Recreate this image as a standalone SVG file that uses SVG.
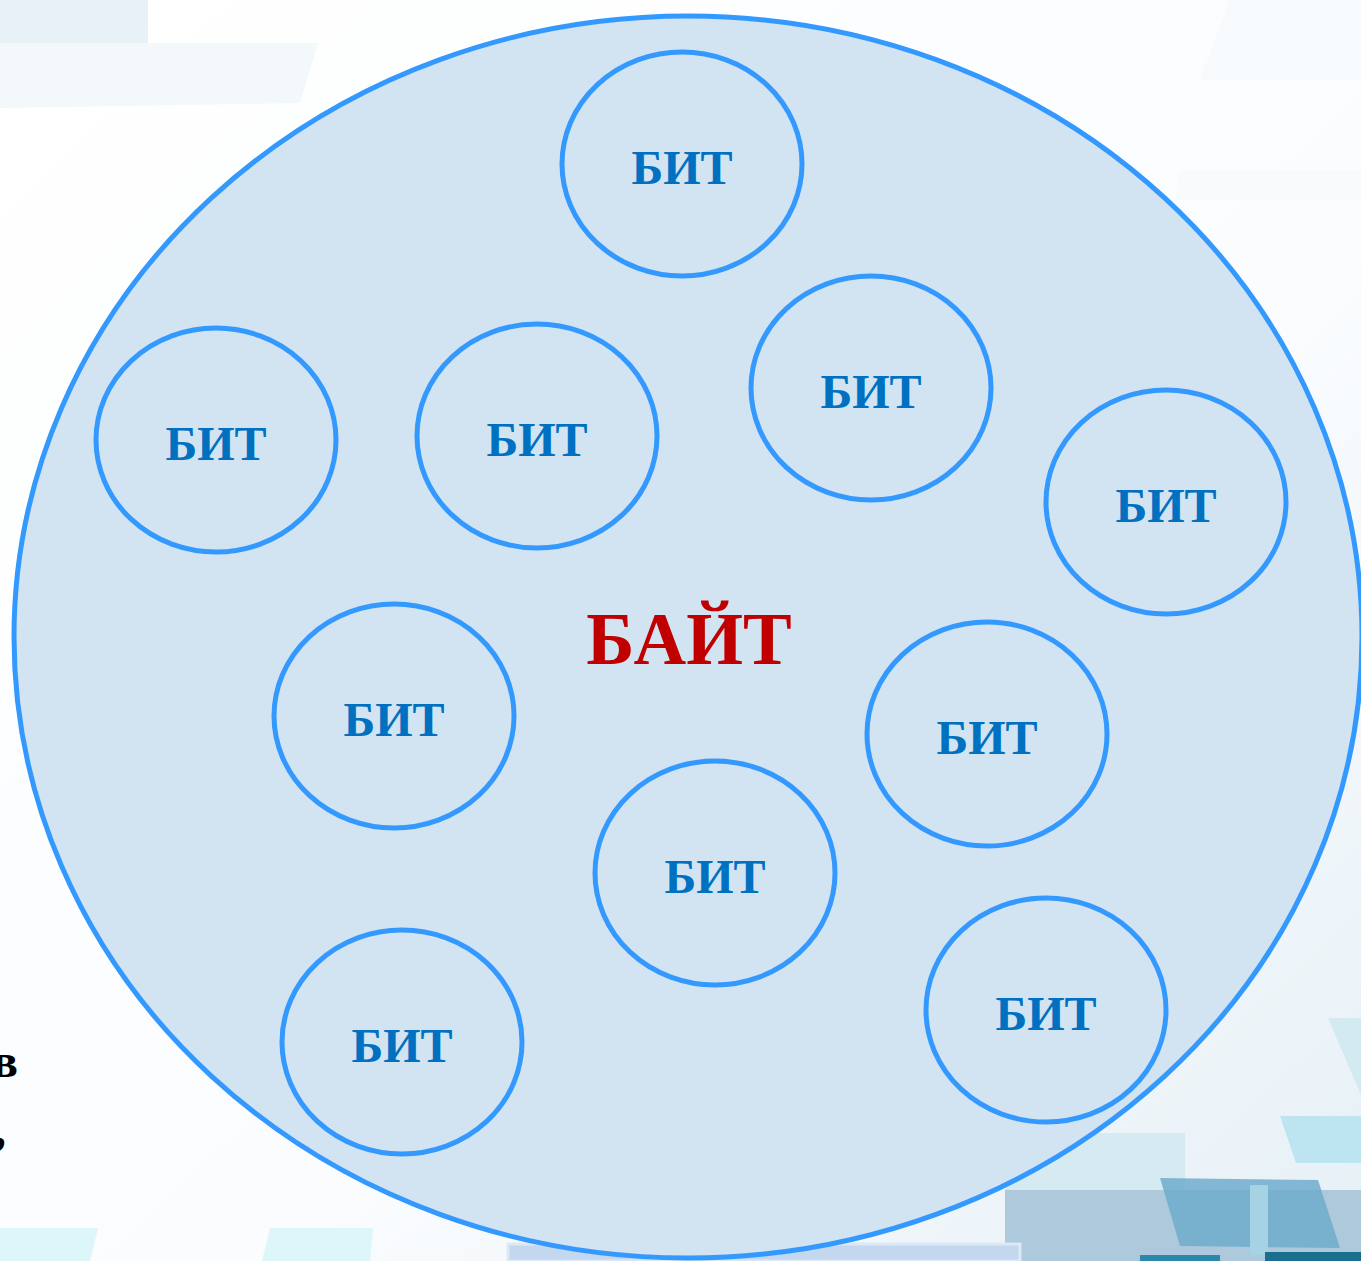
<svg xmlns="http://www.w3.org/2000/svg" width="1361" height="1261" viewBox="0 0 1361 1261">
<style>
.bit{fill:none;stroke:#3399FF;stroke-width:5}
.bt{font-family:"Liberation Serif",serif;font-weight:bold;font-size:48px;fill:#0070C0;text-anchor:middle}
</style>
<defs>
<linearGradient id="bg" x1="0" y1="0" x2="1" y2="1">
<stop offset="0" stop-color="#FFFFFF"/>
<stop offset="0.6" stop-color="#FAFCFE"/>
<stop offset="1" stop-color="#E6F0F6"/>
</linearGradient>
</defs>
<g id="background">
<rect x="0" y="0" width="1361" height="1261" fill="url(#bg)"/>
<rect x="0" y="0" width="148" height="43" fill="#E8F1F7"/>
<polygon points="0,43 318,43 300,103 0,108" fill="#F3F8FB"/>
<polygon points="1230,0 1361,0 1361,80 1200,80" fill="#F6FAFC"/>
<polygon points="1180,170 1361,170 1361,200 1175,200" fill="#F8FAFC"/>
<polygon points="1328,1018 1361,1018 1361,1095" fill="#D3EAF0"/>
<polygon points="1280,1116 1361,1116 1361,1163 1296,1163" fill="#BCE4F1"/>
<rect x="1005" y="1133" width="180" height="60" fill="#D6EAF2"/>
<rect x="1005" y="1190" width="356" height="71" fill="#AFC9DC"/>
<polygon points="1160,1178 1318,1180 1340,1248 1180,1246" fill="#6EADCB" opacity="0.85"/>
<rect x="1250" y="1185" width="18" height="70" fill="#A5D3E3"/>
<rect x="1265" y="1252" width="96" height="9" fill="#1A6E8E"/>
<rect x="1140" y="1255" width="80" height="6" fill="#2C88AA"/>
<rect x="508" y="1244" width="512" height="17" fill="#C3D8EE" stroke="#DCE8F5" stroke-width="3"/>
<polygon points="0,1228 98,1228 90,1261 0,1261" fill="#DDF6F9"/>
<polygon points="270,1228 373,1228 370,1261 262,1261" fill="#DDF6F9"/>
<text x="-8" y="1077" font-family="Liberation Serif,serif" font-weight="bold" font-size="48" fill="#000000">в</text>
<text x="-6" y="1145" font-family="Liberation Serif,serif" font-weight="bold" font-size="48" fill="#000000">,</text>
</g>
<g id="bayt">
<ellipse cx="688" cy="637" rx="674" ry="621" fill="#D2E3F2" stroke="#3399FF" stroke-width="5"/>
<text x="689" y="664" font-family="Liberation Serif,serif" font-weight="bold" font-size="73" fill="#C00000" text-anchor="middle">БАЙТ</text>
</g>
<g id="bit1"><ellipse class="bit" cx="682" cy="164" rx="120" ry="112"/><text class="bt" x="682" y="184">БИТ</text></g>
<g id="bit2"><ellipse class="bit" cx="216" cy="440" rx="120" ry="112"/><text class="bt" x="216" y="460">БИТ</text></g>
<g id="bit3"><ellipse class="bit" cx="537" cy="436" rx="120" ry="112"/><text class="bt" x="537" y="456">БИТ</text></g>
<g id="bit4"><ellipse class="bit" cx="871" cy="388" rx="120" ry="112"/><text class="bt" x="871" y="408">БИТ</text></g>
<g id="bit5"><ellipse class="bit" cx="1166" cy="502" rx="120" ry="112"/><text class="bt" x="1166" y="522">БИТ</text></g>
<g id="bit6"><ellipse class="bit" cx="394" cy="716" rx="120" ry="112"/><text class="bt" x="394" y="736">БИТ</text></g>
<g id="bit7"><ellipse class="bit" cx="987" cy="734" rx="120" ry="112"/><text class="bt" x="987" y="754">БИТ</text></g>
<g id="bit8"><ellipse class="bit" cx="715" cy="873" rx="120" ry="112"/><text class="bt" x="715" y="893">БИТ</text></g>
<g id="bit9"><ellipse class="bit" cx="402" cy="1042" rx="120" ry="112"/><text class="bt" x="402" y="1062">БИТ</text></g>
<g id="bit10"><ellipse class="bit" cx="1046" cy="1010" rx="120" ry="112"/><text class="bt" x="1046" y="1030">БИТ</text></g>
<g id="connectors"/>
</svg>
